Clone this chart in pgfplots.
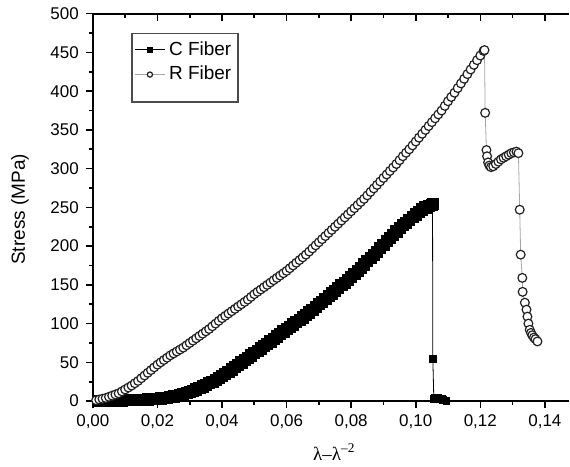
\documentclass[border=0pt]{standalone}
\usepackage{pgfplots}
\pgfplotsset{compat=1.18}
\usepackage{fontspec}
\setmainfont{Liberation Sans}
\newfontfamily\seriffont{Liberation Serif}

\begin{document}
\begin{tikzpicture}
\begin{axis}[
    scale only axis,
    width=238.5pt, height=194pt,
    xmin=0, xmax=0.1475, ymin=0, ymax=500,
    clip=false,
    axis y line*=left,
    xtick pos=left,
    tick align=outside,
    xtick={0,0.02,0.04,0.06,0.08,0.10,0.12,0.14},
    minor x tick num=1,
    ytick={0,50,100,150,200,250,300,350,400,450,500},
    minor y tick num=1,
    major tick length=3.5pt, minor tick length=2pt,
    axis line style={line width=0.9pt},
    every tick/.style={black, line width=0.8pt},
    scaled x ticks=false,
    /pgf/number format/assume math mode=true,
    xticklabel style={/pgf/number format/.cd, fixed, fixed zerofill, precision=2, use comma},
    ticklabel style={font=\fontsize{8.5}{10}\selectfont},
    xlabel={\seriffont λ–λ\textsuperscript{–2}},
    ylabel={Stress (MPa)},
    xlabel style={at={(axis description cs:0.507,-0.131)}, anchor=center, font=\fontsize{9.5}{11}\selectfont},
    ylabel style={at={(axis description cs:-0.153,0.495)}, anchor=center, rotate=0, font=\fontsize{9.5}{11}\selectfont},
    legend style={at={(axis description cs:0.08,0.951)}, anchor=north west,
        draw=gray!60!black, line width=0.8pt, font=\fontsize{9.5}{11}\selectfont,
        row sep=0pt, inner xsep=1.5pt, inner ysep=2pt},
    legend cell align=left,
    legend image code/.code={\draw[mark repeat=2,mark phase=2,mark size=1.3pt] plot coordinates {(0cm,0cm) (0.26cm,0cm) (0.52cm,0cm)};},
]

% C Fiber, rising part
\addplot[black, line width=0.4pt, mark=square*, mark size=2.8pt, mark options={solid}] coordinates {
(0.002,0) (0.003,0) (0.004,0) (0.005,0.3) (0.006,0.5) (0.007,0.5) (0.008,0.6) (0.009,0.8)
(0.010,1) (0.011,1) (0.012,1.2) (0.013,1.3) (0.014,1.5) (0.015,1.7) (0.016,2) (0.017,2.2)
(0.018,2.4) (0.019,2.7) (0.020,3) (0.021,3.5) (0.022,4) (0.023,4.5) (0.024,5) (0.025,6)
(0.026,7) (0.027,8) (0.028,9) (0.029,10.5) (0.030,12) (0.031,13.5) (0.032,15) (0.033,17)
(0.034,19) (0.035,21) (0.036,23) (0.037,25) (0.038,27) (0.039,29.5) (0.040,32) (0.041,35)
(0.042,38) (0.043,41) (0.044,44) (0.045,47) (0.046,50) (0.047,53) (0.048,56) (0.049,59)
(0.050,62) (0.051,65) (0.052,68) (0.053,71) (0.054,74) (0.055,77) (0.056,80) (0.057,83.5)
(0.058,87) (0.059,90) (0.060,93) (0.061,96) (0.062,99) (0.063,102) (0.064,105) (0.065,108)
(0.066,111) (0.067,114.5) (0.068,118) (0.069,121.5) (0.070,125) (0.071,128.5) (0.072,132) (0.073,135.5)
(0.074,139) (0.075,142.5) (0.076,146) (0.077,149.5) (0.078,153) (0.079,156.5) (0.080,160) (0.081,164)
(0.082,168) (0.083,172) (0.084,176.5) (0.085,181) (0.086,185) (0.087,189) (0.088,193) (0.089,197.5)
(0.090,202) (0.091,206.5) (0.092,211) (0.093,215) (0.094,219) (0.095,223) (0.096,227) (0.097,230.5)
(0.098,234) (0.099,237.5) (0.100,241) (0.101,244.5) (0.102,247.5) (0.103,250) (0.104,252) (0.105,253.5)
(0.1052,254)
};
\addlegendentry{C Fiber}
% C Fiber, after failure
\addplot[black, line width=0.4pt, mark=square*, mark size=1.7pt, mark options={solid}, forget plot] coordinates {
(0.1052,254) (0.1053,54) (0.1056,3) (0.1060,4) (0.1065,4) (0.1070,4) (0.1075,3) (0.1080,2.5)
(0.1085,2) (0.1090,1) (0.1095,0.5)
};

% R Fiber
\addplot[gray!70, line width=0.4pt, mark=*, mark size=2.2pt,
    mark options={fill=white, draw=gray!25!black, line width=0.6pt}] coordinates {
(0.001,1) (0.002,2) (0.003,3) (0.004,4) (0.005,5.5) (0.006,7) (0.007,8.5) (0.008,10)
(0.009,12.5) (0.010,15) (0.011,17.5) (0.012,20) (0.013,23) (0.014,26) (0.015,29.5) (0.016,33)
(0.017,36.5) (0.018,40) (0.019,43.5) (0.020,47) (0.021,50) (0.022,53) (0.023,56) (0.024,59)
(0.025,61.5) (0.026,64) (0.027,66.5) (0.028,69) (0.029,72) (0.030,75) (0.031,78) (0.032,81)
(0.033,84) (0.034,87) (0.035,90) (0.036,93) (0.037,96.5) (0.038,100) (0.039,103.5) (0.040,107)
(0.041,110) (0.042,113) (0.043,116) (0.044,119) (0.045,122) (0.046,125) (0.047,128) (0.048,131)
(0.049,134.5) (0.050,138) (0.051,141) (0.052,144) (0.053,147) (0.054,150) (0.055,153) (0.056,156)
(0.057,159) (0.058,162) (0.059,165) (0.060,168) (0.061,171.5) (0.062,175) (0.063,178.5) (0.064,182)
(0.065,185.5) (0.066,189) (0.067,193) (0.068,197) (0.069,201) (0.070,205) (0.071,209) (0.072,213)
(0.073,217) (0.074,221) (0.075,225) (0.076,229) (0.077,233) (0.078,237) (0.079,241) (0.080,245)
(0.081,249) (0.082,253) (0.083,257) (0.084,261) (0.085,265.5) (0.086,270) (0.087,274.5) (0.088,279)
(0.089,283.5) (0.090,288) (0.091,292.5) (0.092,297) (0.093,301.5) (0.094,306) (0.095,311) (0.096,316)
(0.097,320.5) (0.098,325) (0.099,330) (0.100,335) (0.101,340) (0.102,345) (0.103,350) (0.104,355)
(0.105,360) (0.106,365) (0.107,370) (0.108,375) (0.109,381) (0.110,387) (0.111,392.5) (0.112,398)
(0.113,404) (0.114,410) (0.115,416) (0.116,422) (0.117,428) (0.118,434) (0.119,440) (0.120,446)
(0.121,452) (0.1213,453)
(0.1215,372) (0.1219,324) (0.1221,316) (0.1224,308) (0.1228,304) (0.1233,302) (0.1240,303) (0.1248,306)
(0.1256,309) (0.1264,312) (0.1272,314) (0.1280,316) (0.1288,318) (0.1296,320) (0.1304,321) (0.1312,322)
(0.1318,320) (0.1322,247) (0.1325,189) (0.1330,159) (0.1331,141) (0.1338,127) (0.1343,118) (0.1346,109)
(0.1349,100) (0.1353,92) (0.1357,88) (0.1361,85) (0.1366,82) (0.1371,80) (0.1377,77)
};
\addlegendentry{R Fiber}
\addlegendimage{empty legend}
\addlegendentry{}

% page extent
\path (rel axis cs:0,0) ++(-46.5pt,-33pt) coordinate (bbl);
\path (rel axis cs:1,1) ++(0pt,6.5pt) coordinate (btr);
\path (bbl) rectangle (btr);
\end{axis}

% inward ticks along the top edge
\begin{axis}[
    scale only axis,
    width=238.5pt, height=194pt,
    xmin=0, xmax=0.1475, ymin=0, ymax=500,
    hide y axis,
    axis x line*=top,
    tick align=inside,
    xtick={0,0.02,0.04,0.06,0.08,0.10,0.12,0.14},
    minor x tick num=1,
    xticklabels={},
    major tick length=3.5pt, minor tick length=2pt,
    axis line style={line width=0.9pt},
    every tick/.style={black, line width=0.8pt},
]
\end{axis}
\end{tikzpicture}
\end{document}
